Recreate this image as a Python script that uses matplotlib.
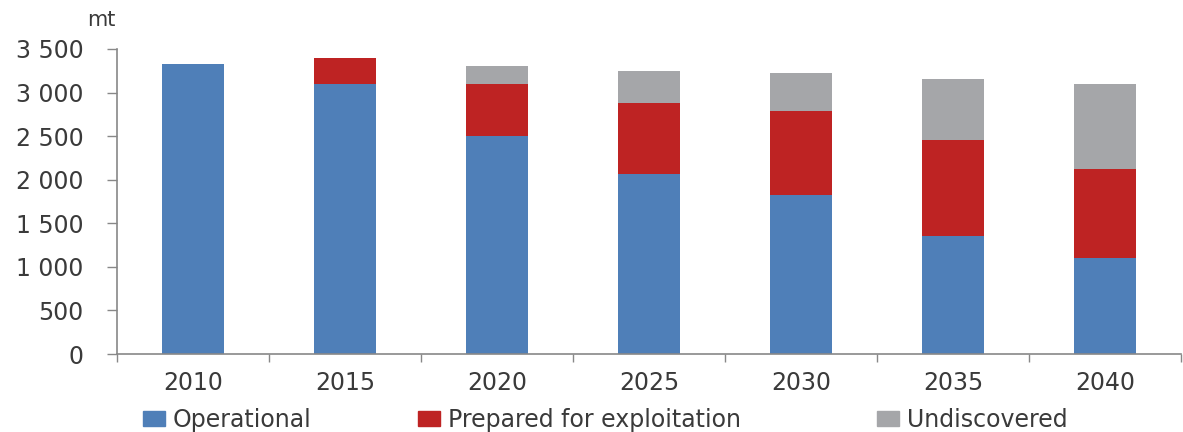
import matplotlib
matplotlib.use("Agg")
import matplotlib.pyplot as plt
from matplotlib.patches import Patch
import numpy as np

years = ["2010", "2015", "2020", "2025", "2030", "2035", "2040"]
operational = [3330, 3100, 2500, 2060, 1830, 1350, 1100]
prepared = [0, 300, 600, 820, 960, 1110, 1020]
undiscovered = [0, 0, 200, 370, 430, 700, 980]
series_names = ["Operational", "Prepared for exploitation", "Undiscovered"]
colors = ["#4F7FB8", "#BE2323", "#A5A6A9"]
yticks = [0, 500, 1000, 1500, 2000, 2500, 3000, 3500]

plt.rcParams['font.family'] = ['DejaVu Sans']
fig = plt.figure(figsize=(11.83, 4.32), dpi=100)
ax = fig.add_axes([117/1183, 1-354/432, (1181-117)/1183, (354-49)/432])

x = np.arange(len(years))
w = 0.41
op = np.array(operational)
pr = np.array(prepared)
un = np.array(undiscovered)
ax.bar(x, op, w, color=colors[0], label=series_names[0])
ax.bar(x, pr, w, bottom=op, color=colors[1], label=series_names[1])
ax.bar(x, un, w, bottom=op+pr, color=colors[2], label=series_names[2])

ax.set_xlim(-0.5, len(years)-0.5)
ax.set_ylim(0, 3500)
ax.set_yticks(yticks)
ax.set_yticklabels([f"{v:,}".replace(",", " ") for v in yticks])
ax.set_xticks(x)
ax.set_xticklabels(years)
ax.set_xticks(np.arange(-0.5, len(years), 1.0), minor=True)

for s in ["top", "right"]:
    ax.spines[s].set_visible(False)
for s in ["left", "bottom"]:
    ax.spines[s].set_color("#888888")
    ax.spines[s].set_linewidth(1.2)

ax.tick_params(axis='y', length=7, width=1, color="#888888", pad=17, labelsize=17, labelcolor="#3a3a3a")
ax.tick_params(axis='x', which='major', length=0, pad=12, labelsize=17, labelcolor="#3a3a3a")
ax.tick_params(axis='x', which='minor', length=6, width=1, color="#888888")

fig.text(101/1183, 1-20/432, "mt", ha="center", va="center", fontsize=15, color="#3a3a3a")

legend_x = [143, 418, 877]
for name, c, lx in zip(series_names, colors, legend_x):
    leg = fig.legend([Patch(color=c)], [name], loc="center left",
                     bbox_to_anchor=(lx/1183, 1-420/432), frameon=False, fontsize=17,
                     handlelength=0.95, handleheight=0.6, handletextpad=0.3,
                     borderpad=0, borderaxespad=0, labelcolor="#3a3a3a")

fig.savefig("out.png", dpi=100)
